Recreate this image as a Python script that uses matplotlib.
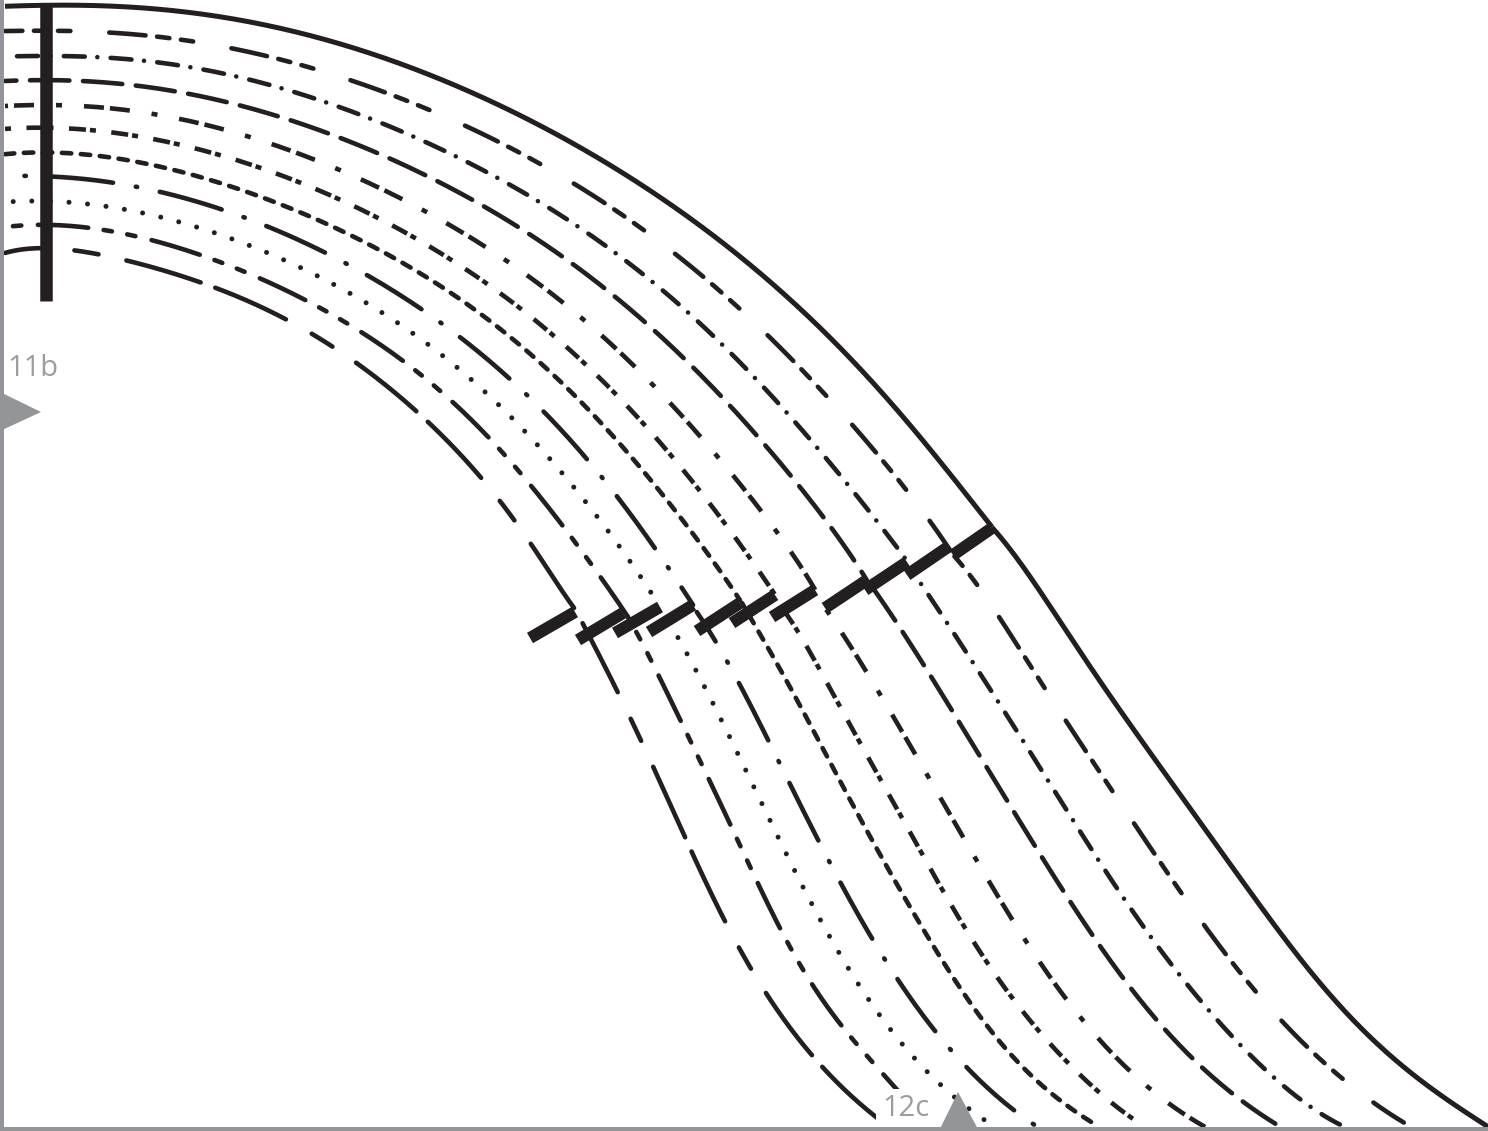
import matplotlib
matplotlib.use("Agg")
import matplotlib.pyplot as plt
import numpy as np
from numpy.polynomial import Chebyshev

plt.rcParams['lines.scale_dashes'] = False
plt.rcParams['font.family'] = ['Open Sans', 'DejaVu Sans']

INK = '#231f20'
GREY = '#939598'

# curve traces, upper part (before the offset row) and lower part (after it)
c1_ux = [5, 100, 200, 267, 333, 400, 507, 613, 713, 773, 873, 992]
c1_uy = [6, 7, 12, 25, 43, 65, 107, 167, 237, 283, 383, 527]
c1_lx = [992, 1040, 1087, 1135, 1183, 1233, 1283, 1310, 1350, 1385, 1420, 1450, 1488]
c1_ly = [527, 593, 660, 730, 803, 867, 933, 970, 1022, 1050, 1078, 1102, 1127]

c2_ux = [5, 75, 110, 150, 200, 317, 350, 388, 432, 463, 500, 542, 573, 645, 673, 740, 765, 827, 850, 905, 927, 950]
c2_uy = [31, 31, 33, 36, 42, 69, 80, 95, 111, 125, 142, 164, 183, 231, 253, 309, 333, 396, 422, 489, 517, 550]
c2_lx = [953, 980, 1025, 1047, 1066, 1113, 1133, 1182, 1203, 1256, 1280, 1307, 1343, 1370, 1413]
c2_ly = [555, 588, 660, 690, 720, 793, 822, 894, 923, 992, 1019, 1047, 1079, 1100, 1128]

c3_ux = [5, 58, 128, 172, 217, 258, 302, 343, 393, 427, 465, 505, 543, 580, 617, 652, 685, 718, 748, 778, 808, 837, 863, 890, 905]
c3_uy = [56, 57, 59, 63, 72, 83, 95, 108, 128, 142, 161, 182, 204, 228, 254, 282, 310, 340, 371, 403, 437, 470, 505, 538, 558]
c3_lx = [915, 927, 947, 975, 989, 1013, 1037, 1060, 1083, 1107, 1133, 1158, 1185, 1213, 1243, 1277, 1318, 1345]
c3_ly = [575, 593, 622, 667, 687, 725, 762, 800, 837, 873, 911, 947, 982, 1015, 1048, 1080, 1112, 1127]

c4_ux = [5, 83, 178, 230, 282, 332, 392, 440, 487, 533, 577, 618, 659, 697, 733, 769, 803, 829, 858, 867]
c4_uy = [81, 81, 92, 103, 117, 135, 160, 182, 208, 237, 267, 299, 335, 371, 409, 450, 491, 524, 567, 580]
c4_lx = [867, 890, 918, 947, 981, 1008, 1036, 1065, 1094, 1126, 1158, 1187, 1237, 1279]
c4_ly = [580, 612, 657, 702, 757, 803, 848, 893, 938, 981, 1022, 1053, 1097, 1126]

c5_ux = [5, 83, 130, 178, 225, 270, 315, 360, 403, 447, 487, 527, 564, 601, 636, 670, 702, 732, 762, 792, 815]
c5_uy = [106, 106, 111, 118, 130, 143, 161, 178, 200, 223, 248, 275, 304, 335, 368, 402, 438, 475, 513, 552, 590]
c5_lx = [825, 853, 879, 892, 916, 940, 964, 988, 1013, 1039, 1068, 1098, 1130, 1169, 1205]
c5_ly = [608, 650, 693, 714, 756, 797, 838, 880, 921, 962, 1000, 1038, 1072, 1103, 1127]

c6_ux = [5, 68, 127, 168, 210, 250, 298, 338, 393, 430, 466, 501, 535, 567, 598, 628, 657, 684, 711, 737, 770, 775]
c6_uy = [129, 128, 135, 142, 153, 163, 182, 199, 226, 247, 269, 294, 320, 347, 377, 407, 438, 472, 505, 540, 587, 595]
c6_lx = [782, 797, 827, 848, 868, 890, 910, 931, 952, 975, 998, 1024, 1052, 1081, 1114, 1142]
c6_ly = [608, 630, 683, 721, 758, 795, 833, 870, 907, 943, 979, 1013, 1045, 1077, 1104, 1125]

c7_ux = [5, 53, 100, 143, 185, 233, 283, 333, 382, 413, 445, 477, 507, 535, 562, 588, 613, 640, 673, 703, 740]
c7_uy = [154, 153, 156, 163, 172, 187, 207, 227, 250, 269, 289, 311, 335, 358, 383, 410, 437, 465, 508, 548, 600]
c7_lx = [742, 768, 797, 817, 835, 853, 873, 893, 915, 938, 962, 988, 1003, 1056, 1096]
c7_ly = [603, 648, 700, 737, 772, 805, 843, 877, 913, 957, 990, 1025, 1047, 1097, 1125]

c8_ux = [5, 53, 118, 160, 227, 267, 330, 380, 425, 460, 513, 543, 590, 618, 658, 693]
c8_uy = [176, 177, 183, 192, 211, 227, 255, 282, 312, 337, 382, 412, 460, 500, 552, 605]
c8_lx = [697, 718, 740, 770, 790, 820, 841, 875, 897, 938, 968, 1017, 1035]
c8_ly = [612, 647, 683, 745, 784, 844, 883, 943, 979, 1035, 1068, 1113, 1125]

c9_ux = [5, 36, 63, 117, 170, 222, 273, 322, 392, 426, 458, 488, 517, 545, 588, 652, 660]
c9_uy = [202, 201, 202, 208, 219, 236, 255, 278, 319, 343, 368, 395, 423, 453, 505, 594, 607]
c9_lx = [660, 673, 693, 724, 754, 783, 814, 848, 878, 903, 940, 972, 993]
c9_ly = [607, 629, 665, 725, 787, 848, 908, 967, 1013, 1045, 1085, 1110, 1126]

c10_ux = [5, 53, 95, 142, 205, 250, 310, 333, 380, 415, 452, 499, 542, 565, 593, 628]
c10_uy = [227, 225, 229, 237, 257, 274, 303, 315, 343, 371, 402, 448, 500, 528, 567, 617]
c10_lx = [628, 642, 658, 683, 708, 732, 757, 782, 812, 843, 873, 895, 925]
c10_ly = [617, 643, 675, 724, 778, 828, 883, 931, 983, 1028, 1065, 1085, 1128]

c11_ux = [5, 40, 73, 103, 127, 205, 287, 355, 380, 428, 466, 490, 517, 532, 577]
c11_uy = [253, 248, 250, 256, 260, 284, 320, 362, 380, 423, 460, 488, 525, 545, 612]
c11_lx = [583, 600, 621, 643, 687, 727, 753, 780, 813, 877, 890]
c11_ly = [623, 660, 696, 745, 842, 926, 972, 1012, 1058, 1117, 1128]

# thick offset marks, one per curve, inner to outer
tick_x0 = [530, 578, 615, 649, 697, 732, 772, 825, 865, 907, 953]
tick_y0 = [638, 640, 633, 632, 631, 623, 617, 608, 590, 575, 555]
tick_x1 = [575, 623, 660, 693, 740, 775, 815, 867, 907, 948, 992]
tick_y1 = [612, 613, 607, 605, 603, 595, 590, 580, 562, 547, 528]

bar_x = [46, 46]
bar_y = [3, 301]

section_labels = ['11b', '12c']


def dash(pattern, offset, lw_px, cap):
    # pattern is in pixels as seen on the picture, round caps add to the dash
    out = []
    for i, v in enumerate(pattern):
        if cap == 'round':
            v = max(v - lw_px, 0.01) if i % 2 == 0 else v + lw_px
        out.append(v * 0.72)
    return (offset * 0.72, tuple(out))


def smooth(x, y, deg=7):
    # the traced points are only good to a pixel or two, so fit against arc length
    x = np.array(x, dtype=float)
    y = np.array(y, dtype=float)
    s = np.r_[0, np.cumsum(np.hypot(np.diff(x), np.diff(y)))]
    deg = min(deg, len(x) // 2)
    ss = np.linspace(0, s[-1], 300)
    return Chebyshev.fit(s, x, deg)(ss), Chebyshev.fit(s, y, deg)(ss)


def curve(ax, x, y, pattern=None, offset=0, lw_px=4.6, cap='round'):
    sx, sy = smooth(x, y)
    if pattern is None:
        ax.plot(sx, sy, color=INK, lw=lw_px * 0.72, solid_capstyle='butt')
    else:
        ax.plot(sx, sy, color=INK, lw=lw_px * 0.72, linestyle=dash(pattern, offset, lw_px, cap),
                dash_capstyle=cap, dash_joinstyle='round')


fig = plt.figure(figsize=(14.88, 11.31), dpi=100)
ax = fig.add_axes([0, 0, 1, 1])
ax.set_xlim(0, 1488)
ax.set_ylim(1131, 0)
ax.axis('off')

curve(ax, c1_ux, c1_uy, lw_px=5)
curve(ax, c1_lx, c1_ly, lw_px=5)

p2 = [41, 7, 17, 7, 17, 34.3]
curve(ax, c2_ux, c2_uy, p2, 19)
curve(ax, c2_lx, c2_ly, p2, 46)

p3 = [25.5, 8, 2.5, 8.7]
curve(ax, c3_ux, c3_uy, p3, 34.75)
curve(ax, c3_lx, c3_ly, p3, 22.7)

p4 = [44, 9]
curve(ax, c4_ux, c4_uy, p4, 28)
curve(ax, c4_lx, c4_ly, p4, 43)

p5 = [20, 6, 20, 22, 6, 22]
curve(ax, c5_ux, c5_uy, p5, 17, cap='butt')
curve(ax, c5_lx, c5_ly, p5, 66, cap='butt')

p6 = [17, 4, 6, 15.5]
curve(ax, c6_ux, c6_uy, p6, 21, cap='butt')
curve(ax, c6_lx, c6_ly, p6, 39.9, cap='butt')

p7 = [14, 5]
curve(ax, c7_ux, c7_uy, p7, 0)
curve(ax, c7_lx, c7_ly, p7, 5)

p8 = [69, 18.5, 6, 18.5]
curve(ax, c8_ux, c8_uy, p8, 68)
curve(ax, c8_lx, c8_ly, p8, 29.5)

p9 = [0.01, 13.6]
curve(ax, c9_ux, c9_uy, p9, 10.4, lw_px=5)
curve(ax, c9_lx, c9_ly, p9, 1.8, lw_px=5)

p10 = [55, 11, 13, 11, 13, 12]
curve(ax, c10_ux, c10_uy, p10, 82)
curve(ax, c10_lx, c10_ly, p10, 49)

p11 = [82, 11, 82, 25, 29, 24]
curve(ax, c11_ux, c11_uy, p11, 130)
curve(ax, c11_lx, c11_ly, p11, 93)

for x0, y0, x1, y1 in zip(tick_x0, tick_y0, tick_x1, tick_y1):
    ax.plot([x0, x1], [y0, y1], color=INK, lw=12 * 0.72, solid_capstyle='butt')
ax.plot(bar_x, bar_y, color=INK, lw=12.5 * 0.72, solid_capstyle='butt')

# frame on the left and bottom, section arrows and labels
ax.plot([2, 2], [0, 1131], color=GREY, lw=4 * 0.72, solid_capstyle='butt')
ax.plot([0, 1488], [1129, 1129], color=GREY, lw=4 * 0.72, solid_capstyle='butt', zorder=5)
ax.fill([0, 41, 0], [392, 412, 431], color=GREY, lw=0, zorder=5)
ax.fill([939, 958, 979], [1131, 1092, 1131], color=GREY, lw=0, zorder=6)
ax.text(7, 369, section_labels[0], color='#9a9c9f', fontsize=21, va='center', ha='left')
ax.text(882, 1109, section_labels[1], color='#9a9c9f', fontsize=21, va='center', ha='left',
        bbox=dict(facecolor='white', edgecolor='none', pad=4), zorder=4)

fig.savefig('out.png', dpi=100)
